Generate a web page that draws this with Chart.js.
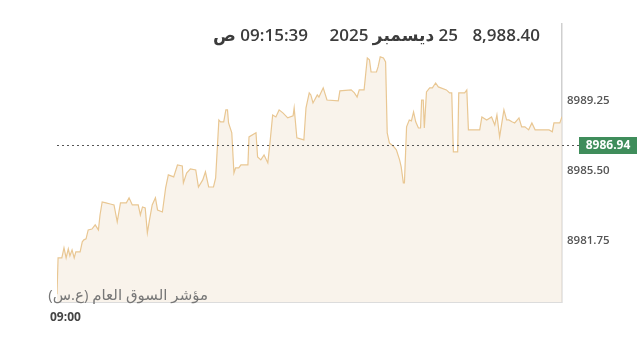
<!DOCTYPE html>
<html>
<head>
<meta charset="utf-8">
<script src="https://cdn.jsdelivr.net/npm/chart.js@4/dist/chart.umd.min.js"></script>
<style>
  body { margin: 0; background: #fff; }
  #wrap { position: relative; width: 640px; height: 339px; overflow: hidden; }
  canvas { position: absolute; left: 0; top: 0; }
  .txt { position: absolute; white-space: nowrap; font-family: "Open Sans", "Noto Sans", "DejaVu Sans", sans-serif; }
</style>
</head>
<body>
<div id="wrap">
  <canvas id="chart" width="640" height="339"></canvas>
  <div class="txt" id="hdr-price" style="right:100px; top:23px; font-size:17px; font-weight:600; color:#3c3c3c;"></div>
  <div class="txt" id="hdr-date" style="right:182px; top:23px; font-size:17px; font-weight:600; color:#3c3c3c; direction:rtl;"></div>
  <div class="txt" id="hdr-time" style="right:332px; top:23px; font-size:17px; font-weight:600; color:#3c3c3c; direction:rtl;"></div>
  <div class="txt" id="idx-name" style="right:432px; top:284px; font-size:15px; color:#777; direction:rtl;"></div>
  <div class="txt" id="start-time" style="left:50px; top:308px; font-size:12px; font-weight:700; color:#444;"></div>
</div>
<script>
// Header / labels
const headerPrice = '8,988.40';
const headerDate = '25 ديسمبر 2025';
const headerTime = '09:15:39 ص';
const indexName = 'مؤشر السوق العام (ع.س)';
const startLabel = '09:00';

// seconds after 09:00
const times = [
  0, 2, 9, 13, 17, 21, 24, 28, 32, 35, 43, 47, 50, 54, 58, 65, 71, 77, 80, 84,
  91, 99, 106, 112, 118, 129, 134, 140, 151, 155, 159, 164, 168, 172, 177, 183, 187, 196, 202, 207,
  217, 224, 233, 235, 241, 248, 258, 263, 271, 276, 282, 291, 295, 301, 304, 310, 314, 317, 319, 325,
  329, 332, 338, 342, 355, 357, 370, 373, 379, 385, 392, 396, 401, 407, 413, 420, 429, 439, 441, 446,
  459, 463, 469, 472, 476, 484, 487, 495, 502, 523, 526, 547, 553, 558, 562, 571, 577, 581, 584, 594,
  597, 601, 607, 611, 614, 618, 625, 631, 637, 640, 644, 646, 650, 655, 659, 663, 667, 672, 676, 678,
  681, 683, 687, 693, 698, 704, 709, 724, 730, 734, 737, 745, 747, 758, 762, 765, 786, 790, 799, 808,
  814, 818, 823, 831, 836, 840, 846, 851, 859, 864, 870, 877, 883, 889, 915, 921, 924, 935, 939
];

const prices = [
  8978.90, 8980.84, 8980.84, 8981.38, 8980.84, 8981.32, 8980.95, 8981.27, 8980.84, 8981.16,
  8981.16, 8981.70, 8981.81, 8981.86, 8982.34, 8982.39, 8982.61, 8982.34, 8983.14, 8983.84,
  8983.79, 8983.73, 8983.68, 8982.77, 8983.79, 8983.79, 8984.06, 8983.68, 8983.68, 8983.14,
  8983.57, 8983.52, 8982.18, 8982.88, 8983.68, 8984.06, 8983.41, 8983.30, 8984.59, 8985.29,
  8985.18, 8985.82, 8985.77, 8984.86, 8985.39, 8985.61, 8985.55, 8984.64, 8985.02, 8985.45,
  8984.64, 8984.64, 8985.13, 8988.23, 8988.13, 8988.13, 8988.77, 8988.77, 8988.07, 8987.54,
  8985.39, 8985.66, 8985.66, 8985.82, 8985.82, 8987.32, 8987.54, 8986.25, 8986.09, 8986.36,
  8985.93, 8987.00, 8988.50, 8988.39, 8988.77, 8988.61, 8988.34, 8988.45, 8988.88, 8987.27,
  8987.16, 8988.88, 8989.68, 8989.57, 8989.14, 8989.57, 8989.46, 8989.95, 8989.30, 8989.25,
  8989.79, 8989.84, 8989.68, 8989.46, 8989.84, 8989.84, 8991.55, 8991.45, 8990.80, 8990.80,
  8991.07, 8991.61, 8991.55, 8991.34, 8987.54, 8987.00, 8986.84, 8986.63, 8986.09, 8985.72,
  8984.86, 8984.86, 8987.86, 8988.23, 8988.18, 8988.66, 8988.13, 8987.80, 8987.80, 8989.30,
  8989.30, 8987.80, 8989.73, 8989.95, 8989.95, 8990.21, 8990.00, 8989.84, 8989.68, 8989.68,
  8986.52, 8986.52, 8989.68, 8989.68, 8989.84, 8987.70, 8987.70, 8988.39, 8988.23, 8988.39,
  8987.96, 8988.50, 8987.32, 8988.77, 8988.23, 8988.23, 8988.13, 8988.07, 8988.34, 8987.86,
  8987.86, 8987.70, 8988.07, 8987.70, 8987.70, 8987.60, 8988.07, 8988.07, 8988.40
];

const yTicks = [8981.75, 8985.50, 8989.25];
const refValue = 8986.94;

document.getElementById('hdr-price').textContent = headerPrice;
document.getElementById('hdr-date').textContent = headerDate;
document.getElementById('hdr-time').textContent = headerTime;
document.getElementById('idx-name').textContent = indexName;
document.getElementById('start-time').textContent = startLabel;

// dotted reference line + green price tag, bottom border
const refLine = {
  id: 'refLine',
  afterDatasetsDraw(chart) {
    const { ctx, chartArea, scales } = chart;
    const y = Math.round(scales.y.getPixelForValue(refValue)) + 1.5;
    ctx.save();
    ctx.strokeStyle = '#dcdcdc';
    ctx.lineWidth = 1;
    ctx.beginPath();
    ctx.moveTo(chartArea.left, chartArea.bottom + 0.5);
    ctx.lineTo(chartArea.right, chartArea.bottom + 0.5);
    ctx.stroke();

    ctx.strokeStyle = '#555';
    ctx.setLineDash([2, 3]);
    ctx.beginPath();
    ctx.moveTo(chartArea.left, y);
    ctx.lineTo(579, y);
    ctx.stroke();
    ctx.setLineDash([]);

    ctx.fillStyle = '#3f8d5b';
    ctx.fillRect(579, y - 8.5, 58, 17);
    ctx.fillStyle = '#fff';
    ctx.font = 'bold 12px "Open Sans", "DejaVu Sans", sans-serif';
    ctx.textAlign = 'center';
    ctx.textBaseline = 'middle';
    ctx.fillText(refValue.toFixed(2), 608, y + 0.5);
    ctx.restore();
  }
};

const ctx = document.getElementById('chart').getContext('2d');
new Chart(ctx, {
  type: 'line',
  data: {
    datasets: [{
      data: times.map((t, i) => ({ x: t, y: prices[i] })),
      borderColor: '#e9c793',
      borderWidth: 1.2,
      backgroundColor: 'rgba(246, 236, 224, 0.65)',
      fill: 'start',
      pointRadius: 0,
      tension: 0
    }]
  },
  options: {
    responsive: false,
    animation: false,
    layout: { padding: { top: 24, bottom: 37, left: 57, right: 0 } },
    plugins: { legend: { display: false }, tooltip: { enabled: false } },
    scales: {
      x: { type: 'linear', min: 0, max: 939, display: false },
      y: {
        position: 'right',
        min: 8978.48,
        max: 8993.37,
        afterBuildTicks: (s) => { s.ticks = yTicks.map(v => ({ value: v })); },
        afterFit: (s) => { s.width = 78; },
        grid: { display: false, drawTicks: false },
        border: { display: true, color: '#cfcfcf', width: 1.5 },
        ticks: {
          padding: 5,
          color: '#555',
          font: { family: '"Open Sans", "DejaVu Sans", sans-serif', size: 11.5, weight: '600' },
          callback: (v) => Number(v).toFixed(2)
        }
      }
    }
  },
  plugins: [refLine]
});
</script>
</body>
</html>
